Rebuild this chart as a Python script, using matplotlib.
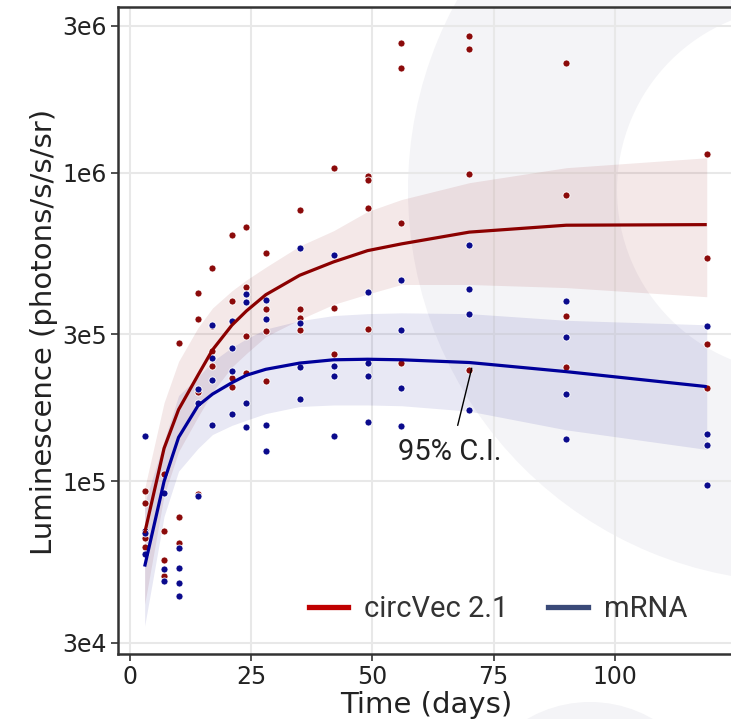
import matplotlib
matplotlib.use("Agg")
import matplotlib.pyplot as plt
from matplotlib.patches import Wedge, Circle
from matplotlib.lines import Line2D
import numpy as np

plt.rcParams["font.family"] = ["DejaVu Sans"]

# ---------------- data ----------------
circ_t = [3, 3, 3, 3,
          7, 7, 7, 7,
          10, 10, 10, 10,
          14, 14, 14, 14,
          17, 17, 17, 17,
          21, 21, 21, 21,
          24, 24, 24, 24,
          28, 28, 28, 28,
          35, 35, 35, 35,
          42, 42, 42,
          49, 49, 49, 49,
          56, 56, 56, 56,
          70, 70, 70, 70,
          90, 90, 90, 90,
          119, 119, 119, 119]
circ_y = [9.3e4, 8.5e4, 6.58e4, 6.15e4,
          1.06e5, 6.93e4, 5.57e4, 4.94e4,
          2.81e5, 7.67e4, 6.34e4, 4.27e4,
          4.09e5, 3.35e5, 1.95e5, 9.08e4,
          4.93e5, 3.19e5, 2.64e5, 2.37e5,
          6.3e5, 3.85e5, 2.16e5, 2.02e5,
          6.7e5, 4.27e5, 2.96e5, 2.25e5,
          5.5e5, 3.62e5, 3.07e5, 2.11e5,
          7.6e5, 3.62e5, 3.38e5, 3.09e5,
          1.04e6, 3.64e5, 2.58e5,
          9.8e5, 9.5e5, 7.7e5, 3.12e5,
          2.64e6, 2.19e6, 6.9e5, 2.43e5,
          2.78e6, 2.52e6, 9.9e5, 2.29e5,
          2.27e6, 8.47e5, 3.44e5, 2.35e5,
          1.15e6, 5.3e5, 2.79e5, 2.01e5]

mrna_t = [3, 3, 3, 3,
          7, 7, 7,
          10, 10, 10, 10,
          14, 14, 14,
          17, 17, 17, 17,
          21, 21, 21, 21,
          24, 24, 24, 24,
          28, 28, 28, 28,
          35, 35, 35, 35,
          42, 42, 42, 42,
          49, 49, 49, 49,
          56, 56, 56, 56,
          70, 70, 70, 70,
          90, 90, 90, 90,
          119, 119, 119, 119]
mrna_y = [1.40e5, 6.92e4, 6.8e4, 5.82e4,
          9.16e4, 5.22e4, 4.76e4,
          6.09e4, 5.26e4, 4.68e4, 4.25e4,
          2.0e5, 1.79e5, 9.0e4,
          3.21e5, 2.51e5, 2.13e5, 1.52e5,
          3.32e5, 2.70e5, 2.28e5, 1.65e5,
          4.04e5, 3.82e5, 1.80e5, 1.50e5,
          3.88e5, 3.37e5, 1.52e5, 1.26e5,
          5.7e5, 3.27e5, 2.35e5, 1.85e5,
          5.43e5, 2.37e5, 2.19e5, 1.40e5,
          4.11e5, 2.42e5, 2.19e5, 1.56e5,
          4.49e5, 3.10e5, 2.01e5, 1.51e5,
          5.85e5, 4.22e5, 3.50e5, 1.71e5,
          3.85e5, 2.94e5, 1.92e5, 1.37e5,
          3.19e5, 1.43e5, 1.31e5, 9.77e4]

fit_t = [3, 7, 10, 14, 17, 21, 24, 28, 35, 42, 49, 56, 70, 90, 119]
circ_fit = [6.8e4, 1.28e5, 1.71e5, 2.21e5, 2.67e5, 3.21e5, 3.57e5, 4.03e5,
            4.66e5, 5.15e5, 5.6e5, 5.89e5, 6.43e5, 6.77e5, 6.8e5]
circ_hi = [9.5e4, 1.8e5, 2.45e5, 3.15e5, 3.65e5, 4.15e5, 4.5e5, 4.95e5,
           5.8e5, 6.5e5, 7.5e5, 8.2e5, 9.3e5, 1.04e6, 1.12e6]
circ_lo = [4.0e4, 9.0e4, 1.25e5, 1.62e5, 1.95e5, 2.35e5, 2.6e5, 2.95e5,
           3.35e5, 3.75e5, 4.05e5, 4.35e5, 4.35e5, 4.25e5, 3.97e5]
mrna_fit = [5.3e4, 1.0e5, 1.39e5, 1.76e5, 1.92e5, 2.09e5, 2.21e5, 2.31e5,
            2.42e5, 2.48e5, 2.49e5, 2.48e5, 2.43e5, 2.27e5, 2.03e5]
mrna_hi = [8.5e4, 1.35e5, 1.9e5, 2.18e5, 2.45e5, 2.72e5, 2.9e5, 3.12e5,
           3.32e5, 3.45e5, 3.5e5, 3.52e5, 3.5e5, 3.33e5, 3.22e5]
mrna_lo = [3.4e4, 7.7e4, 1.08e5, 1.28e5, 1.42e5, 1.52e5, 1.58e5, 1.66e5,
           1.75e5, 1.77e5, 1.77e5, 1.76e5, 1.69e5, 1.47e5, 1.27e5]

labels = ["circVec 2.1", "mRNA"]
x_ticks = [0, 25, 50, 75, 100]
y_ticks = [3e4, 1e5, 3e5, 1e6, 3e6]
y_ticklabels = ["3e4", "1e5", "3e5", "1e6", "3e6"]

# ---------------- figure ----------------
W, H = 731, 719
fig = plt.figure(figsize=(W / 100, H / 100), dpi=100)
fig.patch.set_facecolor("white")

# watermark ring in background
ring = Wedge((8.0, (H - 190) / 100), 3.92, 0, 360, width=2.09,
             transform=fig.dpi_scale_trans, facecolor="#f4f4f7",
             edgecolor="none", zorder=-5)
fig.add_artist(ring)
blob = Circle((5.9, (H - 827) / 100), 1.25, transform=fig.dpi_scale_trans,
              facecolor="#f4f4f7", edgecolor="none", zorder=-5)
fig.add_artist(blob)

ax = fig.add_axes([118 / W, (H - 654) / H, (W - 118) / W, (654 - 7) / H])
ax.patch.set_alpha(0)
ax.set_zorder(1)

red_pt = "#8b0a0a"
blue_pt = "#0a0a8c"
red_line = "#8b0000"
blue_line = "#00009a"

ax.fill_between(fit_t, circ_lo, circ_hi, color="#8b0000", alpha=0.09,
                linewidth=0, zorder=2)
ax.fill_between(fit_t, mrna_lo, mrna_hi, color="#00008b", alpha=0.09,
                linewidth=0, zorder=2)

ax.scatter(circ_t, circ_y, s=26, color=red_pt, edgecolor="white",
           linewidth=0.6, zorder=3)
ax.scatter(mrna_t, mrna_y, s=26, color=blue_pt, edgecolor="white",
           linewidth=0.6, zorder=3)

ax.plot(fit_t, circ_fit, color=red_line, lw=2.3, zorder=4,
        solid_capstyle="butt")
ax.plot(fit_t, mrna_fit, color=blue_line, lw=2.3, zorder=4,
        solid_capstyle="butt")

ax.set_yscale("log")
ax.set_xlim(-2.5, 124.0)
ax.set_ylim(2.76e4, 3.45e6)
ax.set_xticks(x_ticks)
ax.set_yticks(y_ticks)
ax.set_yticklabels(y_ticklabels)
ax.yaxis.set_minor_locator(matplotlib.ticker.NullLocator())
ax.grid(True, color="#e8e8e8", lw=1.5, zorder=0)
ax.set_axisbelow(True)

for s in ["left", "top", "bottom"]:
    ax.spines[s].set_color("#333333")
    ax.spines[s].set_linewidth(1.8)
ax.spines["right"].set_visible(False)

ax.tick_params(axis="both", labelsize=17, colors="#333333", length=5,
               width=1.2, pad=3, labelcolor="#222222")

ax.set_xlabel("Time (days)", fontsize=21, color="#222222")
ax.set_ylabel("Luminescence (photons/s/s/sr)", fontsize=21, color="#222222")
ax.yaxis.set_label_coords(-0.098, 0.498)
ax.xaxis.set_label_coords(0.5024, -0.057)
ax.xaxis.label.set_va("top")

# annotation
ax.annotate("", xy=(70.5, 2.33e5), xytext=(67.6, 1.52e5),
            arrowprops=dict(arrowstyle="-", color="black", lw=1.0,
                            shrinkA=0, shrinkB=0), zorder=5)
ax.text(66.0, 1.25e5, "95% C.I.", fontsize=21, family="Roboto",
        color="#222222", ha="center", va="center", zorder=5)

handles = [Line2D([], [], color="#c00000", lw=3.8),
           Line2D([], [], color="#3a4a78", lw=3.8)]
leg = ax.legend(handles, labels, loc="center", ncol=2, frameon=False,
                bbox_to_anchor=(498 / W, (H - 609) / H),
                bbox_transform=fig.transFigure,
                prop={"family": "Roboto", "size": 21},
                handlelength=1.35, handletextpad=0.55, columnspacing=1.35)
for t in leg.get_texts():
    t.set_color("#333333")

fig.savefig("out.png", dpi=100)
